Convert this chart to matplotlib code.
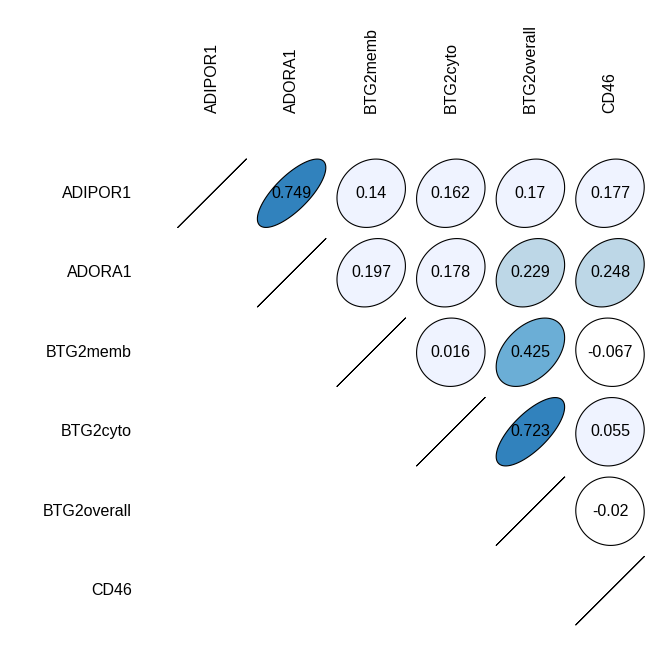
import numpy as np
import matplotlib.pyplot as plt
from matplotlib.patches import Polygon

plt.rcParams['font.family'] = ['Liberation Sans', 'DejaVu Sans']

names = ['ADIPOR1', 'ADORA1', 'BTG2memb', 'BTG2cyto', 'BTG2overall', 'CD46']

# upper triangle of the correlation matrix, row by row
upper = [
    [0.749, 0.14, 0.162, 0.17, 0.177],
    [0.197, 0.178, 0.229, 0.248],
    [0.016, 0.425, -0.067],
    [0.723, 0.055],
    [-0.02],
]

# colour bins (Blues), negative values stay white
bin_edges = [0.0, 0.2, 0.4, 0.6, 0.8, 1.0]
bin_cols = ['#EFF3FF', '#BDD7E7', '#6BAED6', '#3182BD', '#08519C']

n = len(names)
corr = np.eye(n)
for i, row in enumerate(upper):
    for k, v in enumerate(row):
        corr[i, i + 1 + k] = v
        corr[i + 1 + k, i] = v


def pick_col(r):
    if r < 0:
        return 'white'
    idx = np.searchsorted(bin_edges, r, side='right') - 1
    return bin_cols[min(idx, len(bin_cols) - 1)]


def ellipse_xy(r, t=0.43, npts=100):
    a = np.linspace(0, 2 * np.pi, npts)
    d = np.arccos(np.clip(r, -1, 1))
    return t * np.cos(a + d / 2), t * np.cos(a - d / 2)


fig = plt.figure(figsize=(6.72, 6.72), dpi=100)
ax = fig.add_axes([172.2 / 672, 1 - 630.5 / 672, 477.6 / 672, 477 / 672])
ax.set_xlim(0, n)
ax.set_ylim(n, 0)
ax.axis('off')

for i in range(n):
    for j in range(i, n):
        cx, cy = j + 0.5, i + 0.5
        ex, ey = ellipse_xy(corr[i, j])
        if i == j:
            ax.plot(cx + ex, cy - ey, color='black', lw=0.7)
            continue
        ax.add_patch(Polygon(np.column_stack([cx + ex, cy - ey]), closed=True,
                             facecolor=pick_col(corr[i, j]), edgecolor='black', lw=0.8))
        ax.text(cx, cy, f'{corr[i, j]:g}', ha='center', va='center', fontsize=11.5)

for k, name in enumerate(names):
    ax.text(-0.505, k + 0.5, name, ha='right', va='center', fontsize=11.5, clip_on=False)
    ax.text(k + 0.5, -0.51, name, ha='center', va='bottom', rotation=90,
            fontsize=11.5, clip_on=False)

fig.savefig('out.png', dpi=100)
